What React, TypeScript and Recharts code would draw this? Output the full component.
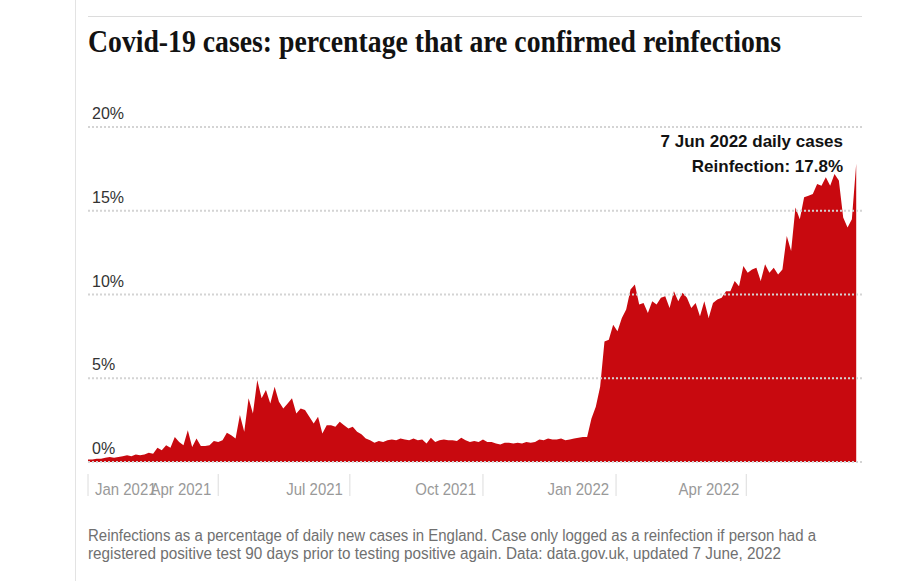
import React from 'react';
import { AreaChart, Area, XAxis, YAxis, ReferenceLine } from 'recharts';

// Sampling step (days) of the series, starting 1 Jan 2021
const STEP_DAYS = 3;

// Reinfections as % of daily new cases (England)
const reinfectionPct = [
  // Jan 2021 – early Jul 2021
  0.15, 0.15, 0.2, 0.2, 0.25, 0.3, 0.25, 0.3, 0.35, 0.4,
  0.35, 0.45, 0.4, 0.45, 0.55, 0.5, 0.85, 0.7, 1.0, 0.85,
  1.5, 1.2, 1.0, 1.9, 0.9, 1.4, 0.95, 0.95, 1.0, 1.25,
  1.2, 1.3, 1.75, 1.6, 1.4, 2.8, 1.8, 3.8, 2.9, 4.9,
  3.8, 4.3, 3.5, 4.5, 3.6, 3.2, 3.5, 3.8, 2.9, 3.2,
  3.1, 2.7, 2.3, 2.7, 1.7, 2.2, 2.2, 2.1, 2.4, 2.2,
  2.0, 2.1,
  // Jul 2021 – early Dec 2021
  1.8, 1.65, 1.4, 1.3, 1.15, 1.25, 1.2, 1.3, 1.35, 1.3,
  1.4, 1.35, 1.3, 1.4, 1.3, 1.35, 1.1, 1.45, 1.2, 1.3,
  1.35, 1.3, 1.3, 1.25, 1.45, 1.3, 1.2, 1.25, 1.2, 1.35,
  1.2, 1.2, 1.1, 1.05, 1.15, 1.15, 1.1, 1.15, 1.1, 1.2,
  1.15, 1.2, 1.35, 1.3, 1.4, 1.35, 1.35, 1.4, 1.3, 1.35,
  1.4, 1.45,
  // Dec 2021 – Jun 2022
  1.5, 1.5, 2.6, 3.3, 4.5, 7.2, 7.3, 8.2, 7.8, 8.6,
  9.1, 10.3, 10.6, 9.4, 9.5, 8.9, 9.6, 9.4, 9.8, 9.9,
  9.2, 10.2, 9.6, 10.1, 9.8, 9.2, 9.5, 8.7, 9.6, 8.6,
  9.5, 9.7, 9.8, 10.2, 10.2, 10.8, 10.5, 11.7, 11.3, 11.5,
  11.6, 10.8, 11.8, 11.3, 11.6, 11.2, 11.5, 13.5, 12.6, 15.2,
  14.5, 15.8, 15.9, 16.0, 16.6, 16.5, 17.0, 16.5, 17.2, 16.8,
  14.6, 14.0, 14.5, 17.8,
];

// x ticks: day offsets from 1 Jan 2021 of each quarter start
const xTickDays = [0, 90, 181, 273, 365, 455];
const xTickLabels = ['Jan 2021', 'Apr 2021', 'Jul 2021', 'Oct 2021', 'Jan 2022', 'Apr 2022'];
const yTicks = [0, 5, 10, 15, 20];

const titleText = 'Covid-19 cases: percentage that are confirmed reinfections';
const annotationLines = ['7 Jun 2022 daily cases', 'Reinfection: 17.8%'];
const footerLines = [
  'Reinfections as a percentage of daily new cases in England. Case only logged as a reinfection if person had a',
  'registered positive test 90 days prior to testing positive again. Data: data.gov.uk, updated 7 June, 2022',
];

const data = reinfectionPct.map((v, i) => ({ day: i * STEP_DAYS, pct: v }));

const RED = '#c8090f';
const SANS = '"Liberation Sans", Arial, sans-serif';
const NARROW = 0.88;

const XTick = (props: any) => {
  const { x, payload } = props;
  const idx = xTickDays.indexOf(payload.value);
  const first = idx === 0;
  const tx = first ? x + 7 : x - 7;
  return (
    <g>
      <line x1={x} x2={x} y1={474} y2={496} stroke="#dcdcdc" strokeWidth={1} />
      <text
        transform={`translate(${tx},495) scale(${NARROW},1)`}
        x={0}
        y={0}
        textAnchor={first ? 'start' : 'end'}
        fontFamily={SANS}
        fontSize={17}
        fill="#999999"
      >
        {xTickLabels[idx]}
      </text>
    </g>
  );
};

const YTick = (props: any) => {
  const { y, payload } = props;
  return (
    <text x={92} y={y - 8} textAnchor="start" fontFamily={SANS} fontSize={16} fill="#333333">
      {`${payload.value}%`}
    </text>
  );
};

export default function App() {
  return (
    <div style={{ position: 'absolute', left: 0, top: 0, width: 916, height: 581, background: '#fff' }}>
      <div style={{ position: 'absolute', left: 0, top: 0 }}>
        <AreaChart width={916} height={581} data={data} margin={{ top: 127, right: 54, bottom: 89, left: 48 }}>
          <XAxis
            dataKey="day"
            type="number"
            domain={[0, 535]}
            ticks={xTickDays}
            interval={0}
            height={30}
            axisLine={false}
            tickLine={false}
            tick={<XTick />}
          />
          <YAxis
            type="number"
            domain={[0, 20]}
            ticks={yTicks}
            width={40}
            axisLine={false}
            tickLine={false}
            tick={<YTick />}
          />
          <Area
            type="linear"
            dataKey="pct"
            stroke="none"
            fill={RED}
            fillOpacity={1}
            isAnimationActive={false}
          />
          {yTicks.map((t) => (
            <ReferenceLine key={t} y={t} stroke="#d4d4d4" strokeWidth={2} strokeDasharray="2 2" />
          ))}
        </AreaChart>
      </div>
      <svg
        width={916}
        height={581}
        style={{ position: 'absolute', left: 0, top: 0, pointerEvents: 'none' }}
      >
        <line x1={75.5} x2={75.5} y1={0} y2={581} stroke="#e3e3e3" strokeWidth={1} />
        <line x1={88} x2={862} y1={16.5} y2={16.5} stroke="#dcdcdc" strokeWidth={1} />
        <text
          x={88}
          y={52}
          fontFamily='"Liberation Serif", serif'
          fontWeight={700}
          fontSize={32}
          fill="#121212"
          textLength={693}
          lengthAdjust="spacingAndGlyphs"
        >
          {titleText}
        </text>
        {annotationLines.map((t, i) => (
          <text
            key={t}
            x={843}
            y={147 + i * 25}
            textAnchor="end"
            fontFamily={SANS}
            fontWeight={700}
            fontSize={17}
            fill="#121212"
          >
            {t}
          </text>
        ))}
        {footerLines.map((t, i) => (
          <text
            key={t}
            x={88}
            y={541 + i * 18}
            fontFamily={SANS}
            fontSize={16}
            fill="#707070"
            textLength={i === 0 ? 728 : 693}
            lengthAdjust="spacingAndGlyphs"
          >
            {t}
          </text>
        ))}
      </svg>
    </div>
  );
}
